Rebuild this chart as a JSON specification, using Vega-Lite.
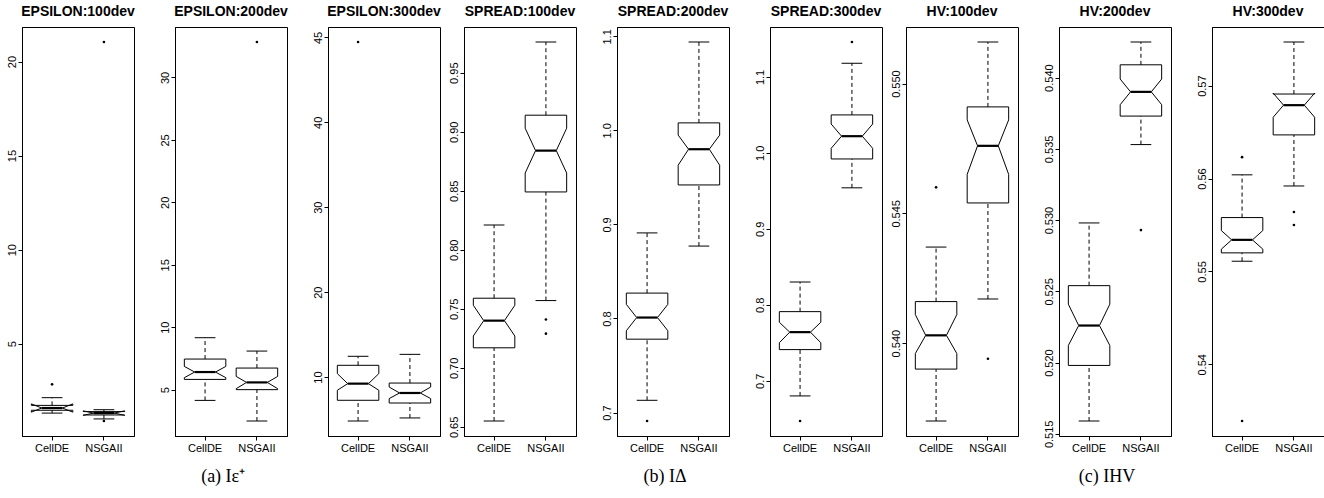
{
"$schema":"https://vega.github.io/schema/vega-lite/v6.json",
"padding":{"left":5,"top":5,"right":0,"bottom":0},
"datasets":{"stats":[
{"grp":"a","panel":"EPSILON:100dev","alg":"CellDE","lo":1.31,"q1":1.46,"nlo":1.36,"med":1.58,"nhi":1.80,"q3":1.72,"hi":2.13},
{"grp":"a","panel":"EPSILON:100dev","alg":"NSGAII","lo":1.00,"q1":1.21,"nlo":1.19,"med":1.31,"nhi":1.43,"q3":1.39,"hi":1.49},
{"grp":"a","panel":"EPSILON:200dev","alg":"CellDE","lo":4.14,"q1":5.82,"nlo":5.96,"med":6.41,"nhi":6.86,"q3":7.45,"hi":9.16},
{"grp":"a","panel":"EPSILON:200dev","alg":"NSGAII","lo":2.49,"q1":5.0,"nlo":5.08,"med":5.58,"nhi":6.06,"q3":6.73,"hi":8.09},
{"grp":"a","panel":"EPSILON:300dev","alg":"CellDE","lo":4.82,"q1":7.26,"nlo":8.44,"med":9.22,"nhi":10.4,"q3":11.38,"hi":12.44},
{"grp":"a","panel":"EPSILON:300dev","alg":"NSGAII","lo":5.18,"q1":6.94,"nlo":7.46,"med":8.12,"nhi":8.82,"q3":9.29,"hi":12.67},
{"grp":"b","panel":"SPREAD:100dev","alg":"CellDE","lo":0.655,"q1":0.717,"nlo":0.727,"med":0.740,"nhi":0.753,"q3":0.759,"hi":0.821},
{"grp":"b","panel":"SPREAD:100dev","alg":"NSGAII","lo":0.757,"q1":0.849,"nlo":0.865,"med":0.884,"nhi":0.903,"q3":0.914,"hi":0.976},
{"grp":"b","panel":"SPREAD:200dev","alg":"CellDE","lo":0.713,"q1":0.778,"nlo":0.787,"med":0.801,"nhi":0.815,"q3":0.827,"hi":0.891},
{"grp":"b","panel":"SPREAD:200dev","alg":"NSGAII","lo":0.877,"q1":0.942,"nlo":0.963,"med":0.980,"nhi":0.995,"q3":1.008,"hi":1.094},
{"grp":"b","panel":"SPREAD:300dev","alg":"CellDE","lo":0.680,"q1":0.741,"nlo":0.750,"med":0.764,"nhi":0.777,"q3":0.791,"hi":0.830},
{"grp":"b","panel":"SPREAD:300dev","alg":"NSGAII","lo":0.954,"q1":0.992,"nlo":1.006,"med":1.022,"nhi":1.038,"q3":1.050,"hi":1.118},
{"grp":"c","panel":"HV:100dev","alg":"CellDE","lo":0.5370,"q1":0.5390,"nlo":0.5396,"med":0.5403,"nhi":0.5411,"q3":0.5416,"hi":0.5437},
{"grp":"c","panel":"HV:100dev","alg":"NSGAII","lo":0.5417,"q1":0.5454,"nlo":0.5465,"med":0.5476,"nhi":0.5486,"q3":0.5491,"hi":0.5516},
{"grp":"c","panel":"HV:200dev","alg":"CellDE","lo":0.5159,"q1":0.5198,"nlo":0.5212,"med":0.5226,"nhi":0.5241,"q3":0.5254,"hi":0.5298},
{"grp":"c","panel":"HV:200dev","alg":"NSGAII","lo":0.5353,"q1":0.5373,"nlo":0.5381,"med":0.5390,"nhi":0.5399,"q3":0.5409,"hi":0.5425},
{"grp":"c","panel":"HV:300dev","alg":"CellDE","lo":0.5511,"q1":0.5520,"nlo":0.5524,"med":0.5534,"nhi":0.5544,"q3":0.5558,"hi":0.5604},
{"grp":"c","panel":"HV:300dev","alg":"NSGAII","lo":0.5592,"q1":0.5647,"nlo":0.5666,"med":0.5679,"nhi":0.5692,"q3":0.5691,"hi":0.5747},
{"grp":"a","panel":"EPSILON:100dev","alg":"CellDE","out":2.84},
{"grp":"a","panel":"EPSILON:100dev","alg":"NSGAII","out":0.89},
{"grp":"a","panel":"EPSILON:100dev","alg":"NSGAII","out":21.04},
{"grp":"a","panel":"EPSILON:200dev","alg":"NSGAII","out":32.84},
{"grp":"a","panel":"EPSILON:300dev","alg":"CellDE","out":49.46},
{"grp":"b","panel":"SPREAD:100dev","alg":"NSGAII","out":0.741},
{"grp":"b","panel":"SPREAD:100dev","alg":"NSGAII","out":0.729},
{"grp":"b","panel":"SPREAD:200dev","alg":"CellDE","out":0.691},
{"grp":"b","panel":"SPREAD:300dev","alg":"CellDE","out":0.647},
{"grp":"b","panel":"SPREAD:300dev","alg":"NSGAII","out":1.146},
{"grp":"c","panel":"HV:100dev","alg":"CellDE","out":0.5460},
{"grp":"c","panel":"HV:100dev","alg":"NSGAII","out":0.5394},
{"grp":"c","panel":"HV:200dev","alg":"NSGAII","out":0.5293},
{"grp":"c","panel":"HV:300dev","alg":"CellDE","out":0.5623},
{"grp":"c","panel":"HV:300dev","alg":"CellDE","out":0.5339},
{"grp":"c","panel":"HV:300dev","alg":"NSGAII","out":0.5564},
{"grp":"c","panel":"HV:300dev","alg":"NSGAII","out":0.5550}
]},
"spacing":6,
"hconcat":[
{
"data":{"name":"stats"},
"transform":[{"filter":"datum.grp == 'a'"}],
"title":{"text":"(a) Iε⁺","orient":"bottom","font":"Liberation Serif","fontSize":18,"fontWeight":"normal","color":"black","offset":14,"anchor":"middle","frame":"bounds"},
"facet":{"column":{"field":"panel","type":"nominal","title":null,"header":{"labelFontSize":14,"labelFontWeight":"bold","labelFont":"Liberation Sans","labelColor":"black","labelPadding":7}}},
"spacing":23,
"resolve":{"scale":{"y":"independent","x":"independent"}},
"spec":{"width":112,"height":409,"layer":[
{"mark":{"type":"rule","strokeDash":[4,3]},"encoding":{"x":{"field":"alg","type":"nominal","bandPosition":0.5,"title":null,"scale":{"type":"band","paddingInner":0,"paddingOuter":0.08}},"y":{"field":"lo","type":"quantitative","title":null,"scale":{"zero":false,"nice":false,"padding":15},"axis":{"tickCount":5,"labelExpr":"datum.value == 50 ? '45' : datum.label"}},"y2":{"field":"q1"}}},
{"mark":{"type":"rule","strokeDash":[4,3]},"encoding":{"x":{"field":"alg","type":"nominal","bandPosition":0.5,"title":null,"scale":{"type":"band","paddingInner":0,"paddingOuter":0.08}},"y":{"field":"q3","type":"quantitative","title":null,"scale":{"zero":false,"nice":false,"padding":15}},"y2":{"field":"hi"}}},
{"mark":"rule","encoding":{"x":{"field":"alg","type":"nominal","bandPosition":0.3,"title":null,"scale":{"type":"band","paddingInner":0,"paddingOuter":0.08}},"x2":{"field":"alg","bandPosition":0.7},"y":{"field":"lo","type":"quantitative","title":null,"scale":{"zero":false,"nice":false,"padding":15}}}},
{"mark":"rule","encoding":{"x":{"field":"alg","type":"nominal","bandPosition":0.3,"title":null,"scale":{"type":"band","paddingInner":0,"paddingOuter":0.08}},"x2":{"field":"alg","bandPosition":0.7},"y":{"field":"hi","type":"quantitative","title":null,"scale":{"zero":false,"nice":false,"padding":15}}}},
{"mark":"rule","encoding":{"x":{"field":"alg","type":"nominal","bandPosition":0.1,"title":null,"scale":{"type":"band","paddingInner":0,"paddingOuter":0.08}},"x2":{"field":"alg","bandPosition":0.9},"y":{"field":"q3","type":"quantitative","title":null,"scale":{"zero":false,"nice":false,"padding":15}}}},
{"mark":"rule","encoding":{"x":{"field":"alg","type":"nominal","bandPosition":0.1,"title":null,"scale":{"type":"band","paddingInner":0,"paddingOuter":0.08}},"x2":{"field":"alg","bandPosition":0.9},"y":{"field":"q1","type":"quantitative","title":null,"scale":{"zero":false,"nice":false,"padding":15}}}},
{"mark":"rule","encoding":{"x":{"field":"alg","type":"nominal","bandPosition":0.1,"title":null,"scale":{"type":"band","paddingInner":0,"paddingOuter":0.08}},"y":{"field":"q1","type":"quantitative","title":null,"scale":{"zero":false,"nice":false,"padding":15}},"y2":{"field":"nlo"}}},
{"mark":"rule","encoding":{"x":{"field":"alg","type":"nominal","bandPosition":0.1,"title":null,"scale":{"type":"band","paddingInner":0,"paddingOuter":0.08}},"y":{"field":"nhi","type":"quantitative","title":null,"scale":{"zero":false,"nice":false,"padding":15}},"y2":{"field":"q3"}}},
{"mark":"rule","encoding":{"x":{"field":"alg","type":"nominal","bandPosition":0.9,"title":null,"scale":{"type":"band","paddingInner":0,"paddingOuter":0.08}},"y":{"field":"q1","type":"quantitative","title":null,"scale":{"zero":false,"nice":false,"padding":15}},"y2":{"field":"nlo"}}},
{"mark":"rule","encoding":{"x":{"field":"alg","type":"nominal","bandPosition":0.9,"title":null,"scale":{"type":"band","paddingInner":0,"paddingOuter":0.08}},"y":{"field":"nhi","type":"quantitative","title":null,"scale":{"zero":false,"nice":false,"padding":15}},"y2":{"field":"q3"}}},
{"mark":"rule","encoding":{"x":{"field":"alg","type":"nominal","bandPosition":0.1,"title":null,"scale":{"type":"band","paddingInner":0,"paddingOuter":0.08}},"x2":{"field":"alg","bandPosition":0.3},"y":{"field":"nlo","type":"quantitative","title":null,"scale":{"zero":false,"nice":false,"padding":15}},"y2":{"field":"med"}}},
{"mark":"rule","encoding":{"x":{"field":"alg","type":"nominal","bandPosition":0.1,"title":null,"scale":{"type":"band","paddingInner":0,"paddingOuter":0.08}},"x2":{"field":"alg","bandPosition":0.3},"y":{"field":"nhi","type":"quantitative","title":null,"scale":{"zero":false,"nice":false,"padding":15}},"y2":{"field":"med"}}},
{"mark":"rule","encoding":{"x":{"field":"alg","type":"nominal","bandPosition":0.9,"title":null,"scale":{"type":"band","paddingInner":0,"paddingOuter":0.08}},"x2":{"field":"alg","bandPosition":0.7},"y":{"field":"nlo","type":"quantitative","title":null,"scale":{"zero":false,"nice":false,"padding":15}},"y2":{"field":"med"}}},
{"mark":"rule","encoding":{"x":{"field":"alg","type":"nominal","bandPosition":0.9,"title":null,"scale":{"type":"band","paddingInner":0,"paddingOuter":0.08}},"x2":{"field":"alg","bandPosition":0.7},"y":{"field":"nhi","type":"quantitative","title":null,"scale":{"zero":false,"nice":false,"padding":15}},"y2":{"field":"med"}}},
{"mark":{"type":"rule","strokeWidth":2.2},"encoding":{"x":{"field":"alg","type":"nominal","bandPosition":0.3,"title":null,"scale":{"type":"band","paddingInner":0,"paddingOuter":0.08}},"x2":{"field":"alg","bandPosition":0.7},"y":{"field":"med","type":"quantitative","title":null,"scale":{"zero":false,"nice":false,"padding":15}}}},
{"mark":{"type":"point","filled":true,"size":7,"opacity":1},"encoding":{"x":{"field":"alg","type":"nominal","bandPosition":0.5,"title":null,"scale":{"type":"band","paddingInner":0,"paddingOuter":0.08}},"y":{"field":"out","type":"quantitative","title":null,"scale":{"zero":false,"nice":false,"padding":15}}}}
]}
},
{
"data":{"name":"stats"},
"transform":[{"filter":"datum.grp == 'b'"}],
"title":{"text":"(b) IΔ","orient":"bottom","font":"Liberation Serif","fontSize":18,"fontWeight":"normal","color":"black","offset":14,"anchor":"middle","frame":"bounds"},
"facet":{"column":{"field":"panel","type":"nominal","title":null,"header":{"labelFontSize":14,"labelFontWeight":"bold","labelFont":"Liberation Sans","labelColor":"black","labelPadding":7}}},
"spacing":23,
"resolve":{"scale":{"y":"independent","x":"independent"}},
"spec":{"width":112,"height":409,"layer":[
{"mark":{"type":"rule","strokeDash":[4,3]},"encoding":{"x":{"field":"alg","type":"nominal","bandPosition":0.5,"title":null,"scale":{"type":"band","paddingInner":0,"paddingOuter":0.08}},"y":{"field":"lo","type":"quantitative","title":null,"scale":{"zero":false,"nice":false,"padding":15},"axis":{"tickCount":5}},"y2":{"field":"q1"}}},
{"mark":{"type":"rule","strokeDash":[4,3]},"encoding":{"x":{"field":"alg","type":"nominal","bandPosition":0.5,"title":null,"scale":{"type":"band","paddingInner":0,"paddingOuter":0.08}},"y":{"field":"q3","type":"quantitative","title":null,"scale":{"zero":false,"nice":false,"padding":15}},"y2":{"field":"hi"}}},
{"mark":"rule","encoding":{"x":{"field":"alg","type":"nominal","bandPosition":0.3,"title":null,"scale":{"type":"band","paddingInner":0,"paddingOuter":0.08}},"x2":{"field":"alg","bandPosition":0.7},"y":{"field":"lo","type":"quantitative","title":null,"scale":{"zero":false,"nice":false,"padding":15}}}},
{"mark":"rule","encoding":{"x":{"field":"alg","type":"nominal","bandPosition":0.3,"title":null,"scale":{"type":"band","paddingInner":0,"paddingOuter":0.08}},"x2":{"field":"alg","bandPosition":0.7},"y":{"field":"hi","type":"quantitative","title":null,"scale":{"zero":false,"nice":false,"padding":15}}}},
{"mark":"rule","encoding":{"x":{"field":"alg","type":"nominal","bandPosition":0.1,"title":null,"scale":{"type":"band","paddingInner":0,"paddingOuter":0.08}},"x2":{"field":"alg","bandPosition":0.9},"y":{"field":"q3","type":"quantitative","title":null,"scale":{"zero":false,"nice":false,"padding":15}}}},
{"mark":"rule","encoding":{"x":{"field":"alg","type":"nominal","bandPosition":0.1,"title":null,"scale":{"type":"band","paddingInner":0,"paddingOuter":0.08}},"x2":{"field":"alg","bandPosition":0.9},"y":{"field":"q1","type":"quantitative","title":null,"scale":{"zero":false,"nice":false,"padding":15}}}},
{"mark":"rule","encoding":{"x":{"field":"alg","type":"nominal","bandPosition":0.1,"title":null,"scale":{"type":"band","paddingInner":0,"paddingOuter":0.08}},"y":{"field":"q1","type":"quantitative","title":null,"scale":{"zero":false,"nice":false,"padding":15}},"y2":{"field":"nlo"}}},
{"mark":"rule","encoding":{"x":{"field":"alg","type":"nominal","bandPosition":0.1,"title":null,"scale":{"type":"band","paddingInner":0,"paddingOuter":0.08}},"y":{"field":"nhi","type":"quantitative","title":null,"scale":{"zero":false,"nice":false,"padding":15}},"y2":{"field":"q3"}}},
{"mark":"rule","encoding":{"x":{"field":"alg","type":"nominal","bandPosition":0.9,"title":null,"scale":{"type":"band","paddingInner":0,"paddingOuter":0.08}},"y":{"field":"q1","type":"quantitative","title":null,"scale":{"zero":false,"nice":false,"padding":15}},"y2":{"field":"nlo"}}},
{"mark":"rule","encoding":{"x":{"field":"alg","type":"nominal","bandPosition":0.9,"title":null,"scale":{"type":"band","paddingInner":0,"paddingOuter":0.08}},"y":{"field":"nhi","type":"quantitative","title":null,"scale":{"zero":false,"nice":false,"padding":15}},"y2":{"field":"q3"}}},
{"mark":"rule","encoding":{"x":{"field":"alg","type":"nominal","bandPosition":0.1,"title":null,"scale":{"type":"band","paddingInner":0,"paddingOuter":0.08}},"x2":{"field":"alg","bandPosition":0.3},"y":{"field":"nlo","type":"quantitative","title":null,"scale":{"zero":false,"nice":false,"padding":15}},"y2":{"field":"med"}}},
{"mark":"rule","encoding":{"x":{"field":"alg","type":"nominal","bandPosition":0.1,"title":null,"scale":{"type":"band","paddingInner":0,"paddingOuter":0.08}},"x2":{"field":"alg","bandPosition":0.3},"y":{"field":"nhi","type":"quantitative","title":null,"scale":{"zero":false,"nice":false,"padding":15}},"y2":{"field":"med"}}},
{"mark":"rule","encoding":{"x":{"field":"alg","type":"nominal","bandPosition":0.9,"title":null,"scale":{"type":"band","paddingInner":0,"paddingOuter":0.08}},"x2":{"field":"alg","bandPosition":0.7},"y":{"field":"nlo","type":"quantitative","title":null,"scale":{"zero":false,"nice":false,"padding":15}},"y2":{"field":"med"}}},
{"mark":"rule","encoding":{"x":{"field":"alg","type":"nominal","bandPosition":0.9,"title":null,"scale":{"type":"band","paddingInner":0,"paddingOuter":0.08}},"x2":{"field":"alg","bandPosition":0.7},"y":{"field":"nhi","type":"quantitative","title":null,"scale":{"zero":false,"nice":false,"padding":15}},"y2":{"field":"med"}}},
{"mark":{"type":"rule","strokeWidth":2.2},"encoding":{"x":{"field":"alg","type":"nominal","bandPosition":0.3,"title":null,"scale":{"type":"band","paddingInner":0,"paddingOuter":0.08}},"x2":{"field":"alg","bandPosition":0.7},"y":{"field":"med","type":"quantitative","title":null,"scale":{"zero":false,"nice":false,"padding":15}}}},
{"mark":{"type":"point","filled":true,"size":7,"opacity":1},"encoding":{"x":{"field":"alg","type":"nominal","bandPosition":0.5,"title":null,"scale":{"type":"band","paddingInner":0,"paddingOuter":0.08}},"y":{"field":"out","type":"quantitative","title":null,"scale":{"zero":false,"nice":false,"padding":15}}}}
]}
},
{
"data":{"name":"stats"},
"transform":[{"filter":"datum.grp == 'c'"}],
"title":{"text":"(c) IHV","orient":"bottom","font":"Liberation Serif","fontSize":18,"fontWeight":"normal","color":"black","offset":14,"anchor":"middle","frame":"bounds"},
"facet":{"column":{"field":"panel","type":"nominal","title":null,"header":{"labelFontSize":14,"labelFontWeight":"bold","labelFont":"Liberation Sans","labelColor":"black","labelPadding":7}}},
"spacing":23,
"resolve":{"scale":{"y":"independent","x":"independent"}},
"spec":{"width":112,"height":409,"layer":[
{"mark":{"type":"rule","strokeDash":[4,3]},"encoding":{"x":{"field":"alg","type":"nominal","bandPosition":0.5,"title":null,"scale":{"type":"band","paddingInner":0,"paddingOuter":0.08}},"y":{"field":"lo","type":"quantitative","title":null,"scale":{"zero":false,"nice":false,"padding":15},"axis":{"tickCount":4.3}},"y2":{"field":"q1"}}},
{"mark":{"type":"rule","strokeDash":[4,3]},"encoding":{"x":{"field":"alg","type":"nominal","bandPosition":0.5,"title":null,"scale":{"type":"band","paddingInner":0,"paddingOuter":0.08}},"y":{"field":"q3","type":"quantitative","title":null,"scale":{"zero":false,"nice":false,"padding":15}},"y2":{"field":"hi"}}},
{"mark":"rule","encoding":{"x":{"field":"alg","type":"nominal","bandPosition":0.3,"title":null,"scale":{"type":"band","paddingInner":0,"paddingOuter":0.08}},"x2":{"field":"alg","bandPosition":0.7},"y":{"field":"lo","type":"quantitative","title":null,"scale":{"zero":false,"nice":false,"padding":15}}}},
{"mark":"rule","encoding":{"x":{"field":"alg","type":"nominal","bandPosition":0.3,"title":null,"scale":{"type":"band","paddingInner":0,"paddingOuter":0.08}},"x2":{"field":"alg","bandPosition":0.7},"y":{"field":"hi","type":"quantitative","title":null,"scale":{"zero":false,"nice":false,"padding":15}}}},
{"mark":"rule","encoding":{"x":{"field":"alg","type":"nominal","bandPosition":0.1,"title":null,"scale":{"type":"band","paddingInner":0,"paddingOuter":0.08}},"x2":{"field":"alg","bandPosition":0.9},"y":{"field":"q3","type":"quantitative","title":null,"scale":{"zero":false,"nice":false,"padding":15}}}},
{"mark":"rule","encoding":{"x":{"field":"alg","type":"nominal","bandPosition":0.1,"title":null,"scale":{"type":"band","paddingInner":0,"paddingOuter":0.08}},"x2":{"field":"alg","bandPosition":0.9},"y":{"field":"q1","type":"quantitative","title":null,"scale":{"zero":false,"nice":false,"padding":15}}}},
{"mark":"rule","encoding":{"x":{"field":"alg","type":"nominal","bandPosition":0.1,"title":null,"scale":{"type":"band","paddingInner":0,"paddingOuter":0.08}},"y":{"field":"q1","type":"quantitative","title":null,"scale":{"zero":false,"nice":false,"padding":15}},"y2":{"field":"nlo"}}},
{"mark":"rule","encoding":{"x":{"field":"alg","type":"nominal","bandPosition":0.1,"title":null,"scale":{"type":"band","paddingInner":0,"paddingOuter":0.08}},"y":{"field":"nhi","type":"quantitative","title":null,"scale":{"zero":false,"nice":false,"padding":15}},"y2":{"field":"q3"}}},
{"mark":"rule","encoding":{"x":{"field":"alg","type":"nominal","bandPosition":0.9,"title":null,"scale":{"type":"band","paddingInner":0,"paddingOuter":0.08}},"y":{"field":"q1","type":"quantitative","title":null,"scale":{"zero":false,"nice":false,"padding":15}},"y2":{"field":"nlo"}}},
{"mark":"rule","encoding":{"x":{"field":"alg","type":"nominal","bandPosition":0.9,"title":null,"scale":{"type":"band","paddingInner":0,"paddingOuter":0.08}},"y":{"field":"nhi","type":"quantitative","title":null,"scale":{"zero":false,"nice":false,"padding":15}},"y2":{"field":"q3"}}},
{"mark":"rule","encoding":{"x":{"field":"alg","type":"nominal","bandPosition":0.1,"title":null,"scale":{"type":"band","paddingInner":0,"paddingOuter":0.08}},"x2":{"field":"alg","bandPosition":0.3},"y":{"field":"nlo","type":"quantitative","title":null,"scale":{"zero":false,"nice":false,"padding":15}},"y2":{"field":"med"}}},
{"mark":"rule","encoding":{"x":{"field":"alg","type":"nominal","bandPosition":0.1,"title":null,"scale":{"type":"band","paddingInner":0,"paddingOuter":0.08}},"x2":{"field":"alg","bandPosition":0.3},"y":{"field":"nhi","type":"quantitative","title":null,"scale":{"zero":false,"nice":false,"padding":15}},"y2":{"field":"med"}}},
{"mark":"rule","encoding":{"x":{"field":"alg","type":"nominal","bandPosition":0.9,"title":null,"scale":{"type":"band","paddingInner":0,"paddingOuter":0.08}},"x2":{"field":"alg","bandPosition":0.7},"y":{"field":"nlo","type":"quantitative","title":null,"scale":{"zero":false,"nice":false,"padding":15}},"y2":{"field":"med"}}},
{"mark":"rule","encoding":{"x":{"field":"alg","type":"nominal","bandPosition":0.9,"title":null,"scale":{"type":"band","paddingInner":0,"paddingOuter":0.08}},"x2":{"field":"alg","bandPosition":0.7},"y":{"field":"nhi","type":"quantitative","title":null,"scale":{"zero":false,"nice":false,"padding":15}},"y2":{"field":"med"}}},
{"mark":{"type":"rule","strokeWidth":2.2},"encoding":{"x":{"field":"alg","type":"nominal","bandPosition":0.3,"title":null,"scale":{"type":"band","paddingInner":0,"paddingOuter":0.08}},"x2":{"field":"alg","bandPosition":0.7},"y":{"field":"med","type":"quantitative","title":null,"scale":{"zero":false,"nice":false,"padding":15}}}},
{"mark":{"type":"point","filled":true,"size":7,"opacity":1},"encoding":{"x":{"field":"alg","type":"nominal","bandPosition":0.5,"title":null,"scale":{"type":"band","paddingInner":0,"paddingOuter":0.08}},"y":{"field":"out","type":"quantitative","title":null,"scale":{"zero":false,"nice":false,"padding":15}}}}
]}
}
],
"config":{
"view":{"stroke":"black","strokeWidth":1},
"mark":{"color":"black"},
"axis":{"domainColor":"black","tickColor":"black","labelColor":"black","labelFont":"Liberation Sans","labelFontSize":11,"tickSize":4,"grid":false},
"axisY":{"labelAngle":270,"labelAlign":"center","labelBaseline":"bottom","labelPadding":1},
"axisX":{"labelAngle":0,"labelPadding":2}
}
}
